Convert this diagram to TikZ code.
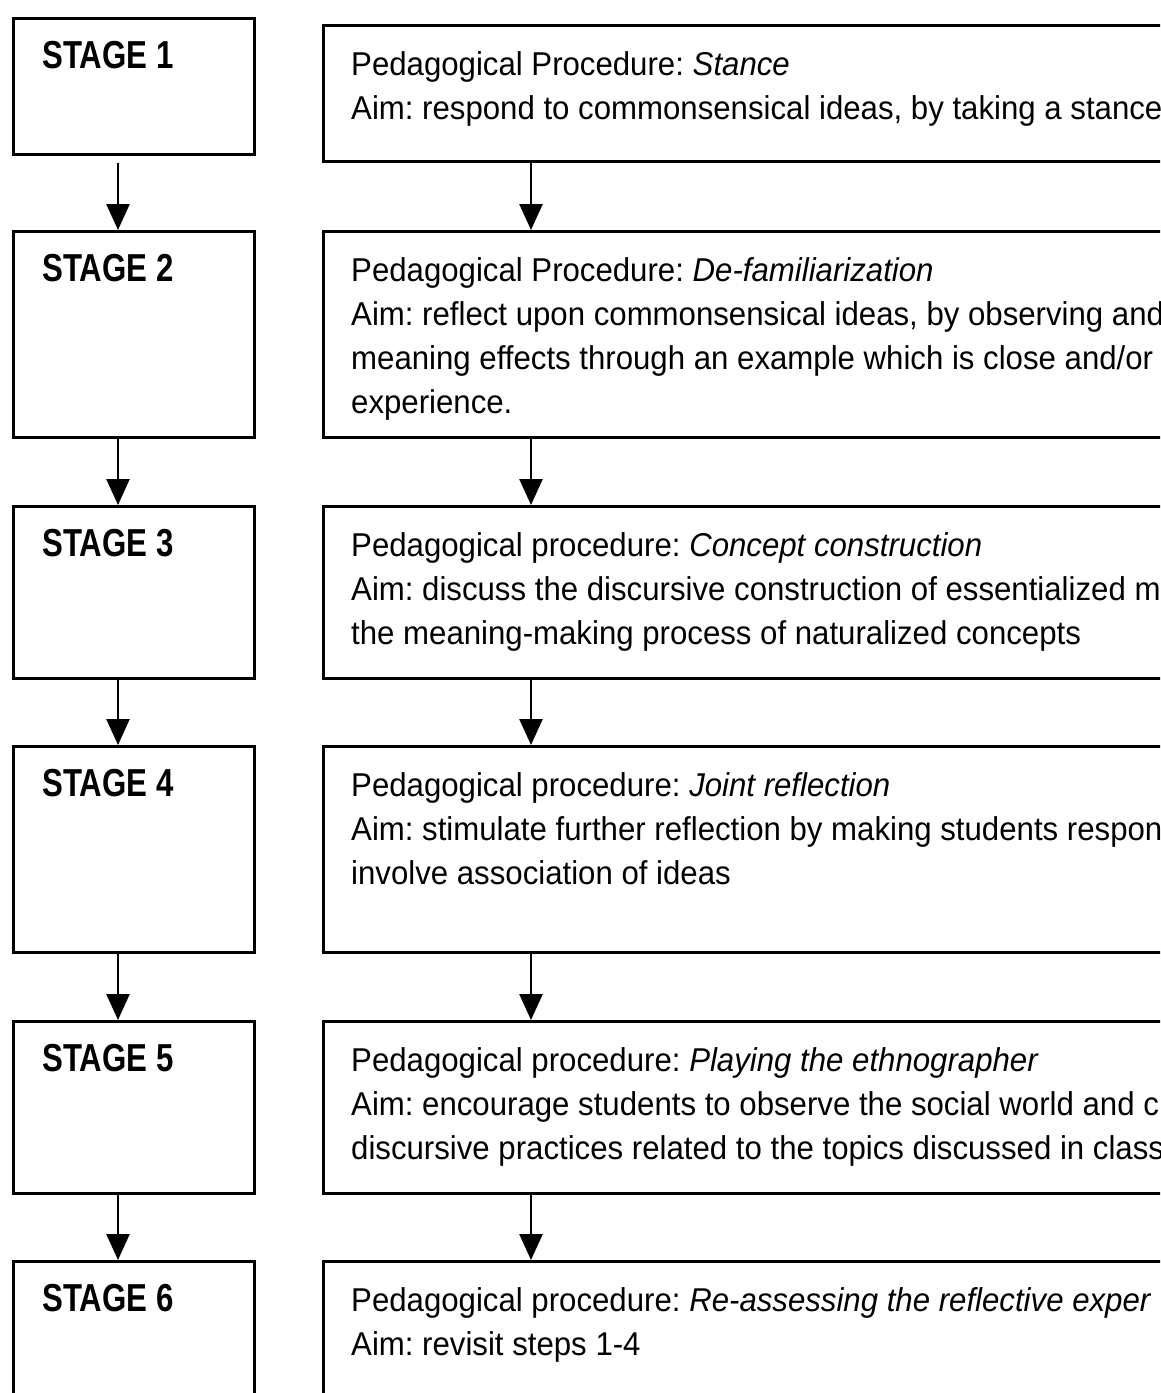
\documentclass[tikz,border=0pt]{standalone}
\usepackage{fontspec}
\setmainfont{Liberation Sans}
\newfontfamily\stagefont[FakeStretch=0.8]{Liberation Sans}
\newfontfamily\procfont[FakeStretch=0.945]{Liberation Sans}
\usetikzlibrary{arrows.meta}
\frenchspacing
\tikzset{
  box/.style={draw=black, line width=3pt, rectangle, inner sep=0pt, anchor=north west, fill=none},
  stagelbl/.style={anchor=base west, inner sep=0pt, font=\stagefont\bfseries\fontsize{39}{44}\selectfont},
  proctext/.style={anchor=north west, inner sep=0pt, align=left, font=\procfont\fontsize{33}{44}\selectfont},
  arr/.style={line width=2.6pt, -{Triangle[length=26pt,width=23pt]}}
}
\begin{document}
\begin{tikzpicture}[x=1pt,y=-1pt]
\useasboundingbox (0,0) rectangle (1160,1393);
\clip (0,0) rectangle (1160,1393);
\fill[white] (0,0) rectangle (1160,1393);
% left column
\node[box, minimum width=241pt, minimum height=136pt] (s1) at (12,17) {};
\node[box, minimum width=241pt, minimum height=206pt] (s2) at (12,230) {};
\node[box, minimum width=241pt, minimum height=172pt] (s3) at (12,505) {};
\node[box, minimum width=241pt, minimum height=206pt] (s4) at (12,745) {};
\node[box, minimum width=241pt, minimum height=172pt] (s5) at (12,1020) {};
\node[box, minimum width=241pt, minimum height=172pt] (s6) at (12,1260) {};
\node[stagelbl] (l1) at (42,68) {STAGE 1};
\node[stagelbl] (l2) at (42,281) {STAGE 2};
\node[stagelbl] (l3) at (42,556) {STAGE 3};
\node[stagelbl] (l4) at (42,796) {STAGE 4};
\node[stagelbl] (l5) at (42,1071) {STAGE 5};
\node[stagelbl] (l6) at (42,1311) {STAGE 6};
% right column
\node[box, minimum width=900pt, minimum height=136pt] (r1) at (322,24) {};
\node[box, minimum width=900pt, minimum height=206pt] (r2) at (322,230) {};
\node[box, minimum width=900pt, minimum height=172pt] (r3) at (322,505) {};
\node[box, minimum width=900pt, minimum height=206pt] (r4) at (322,745) {};
\node[box, minimum width=900pt, minimum height=172pt] (r5) at (322,1020) {};
\node[box, minimum width=900pt, minimum height=172pt] (r6) at (322,1260) {};
\node[proctext] (t1) at (351,51) {Pedagogical Procedure: \textit{Stance}\\Aim: respond to commonsensical ideas, by taking a stance};
\node[proctext] (t2) at (351,257) {Pedagogical Procedure: \textit{De-familiarization}\\Aim: reflect upon commonsensical ideas, by observing and\\meaning effects through an example which is close and/or\\experience.};
\node[proctext] (t3) at (351,532) {Pedagogical procedure: \textit{Concept construction}\\Aim: discuss the discursive construction of essentialized m\\the meaning-making process of naturalized concepts};
\node[proctext] (t4) at (351,772) {Pedagogical procedure: \textit{Joint reflection}\\Aim: stimulate further reflection by making students respon\\involve association of ideas};
\node[proctext] (t5) at (351,1047) {Pedagogical procedure: \textit{Playing the ethnographer}\\Aim: encourage students to observe the social world and c\\discursive practices related to the topics discussed in class};
\node[proctext] (t6) at (351,1287) {Pedagogical procedure: \textit{Re-assessing the reflective exper}\\Aim: revisit steps 1-4};
% arrows
\draw[arr] (r1.south -| 118,0) -- (s2.north -| 118,0);
\draw[arr] (s2.south -| 118,0) -- (s3.north -| 118,0);
\draw[arr] (s3.south -| 118,0) -- (s4.north -| 118,0);
\draw[arr] (s4.south -| 118,0) -- (s5.north -| 118,0);
\draw[arr] (s5.south -| 118,0) -- (s6.north -| 118,0);
\draw[arr] (r1.south -| 531,0) -- (r2.north -| 531,0);
\draw[arr] (r2.south -| 531,0) -- (r3.north -| 531,0);
\draw[arr] (r3.south -| 531,0) -- (r4.north -| 531,0);
\draw[arr] (r4.south -| 531,0) -- (r5.north -| 531,0);
\draw[arr] (r5.south -| 531,0) -- (r6.north -| 531,0);
\end{tikzpicture}
\end{document}
